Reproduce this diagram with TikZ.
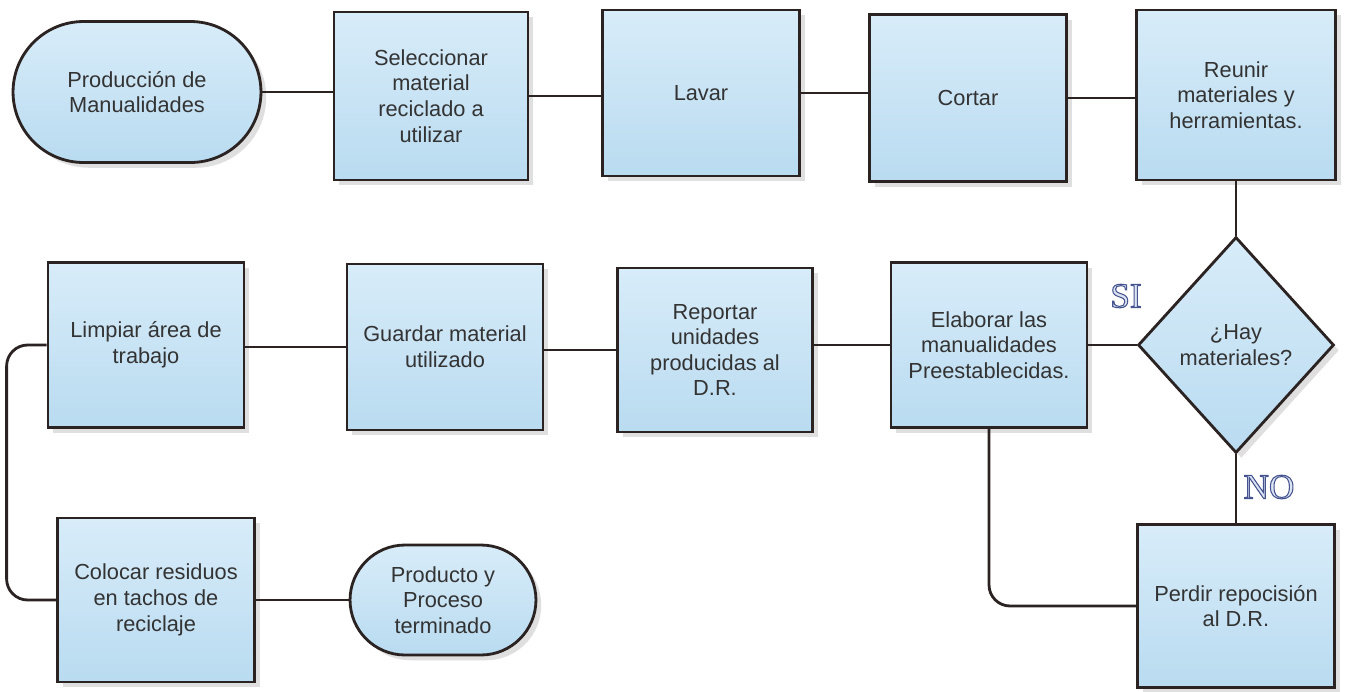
\documentclass[tikz,border=0pt]{standalone}
\usepackage{fontspec}
\setmainfont{Liberation Sans}
\newfontfamily\labelfont{Liberation Serif}
\usetikzlibrary{shapes.geometric,shapes.misc,shadows}
\definecolor{boxtop}{HTML}{D8ECF9}
\definecolor{boxbot}{HTML}{B9DBF0}
\definecolor{edgec}{HTML}{2B2222}
\definecolor{txtc}{HTML}{333333}
\definecolor{lblc}{HTML}{DCE4F4}
\newcommand{\outlined}[1]{\special{pdf:literal direct 2 Tr 0.6 w 0.27 0.33 0.56 RG}#1\special{pdf:literal direct 0 Tr}}
\tikzset{
  base/.style={draw=edgec, line width=1.6pt, top color=boxtop, bottom color=boxbot,
    text=txtc, align=center, font=\fontsize{12.4}{14.6}\selectfont, inner sep=2pt,
    drop shadow={shadow xshift=3pt, shadow yshift=-3pt, opacity=0.25, fill=gray}},
  procbox/.style={base, rectangle, minimum width=3.94cm, minimum height=3.32cm},
  termbox/.style={base, rounded rectangle},
  decbox/.style={base, diamond, minimum width=3.92cm, minimum height=4.32cm, inner sep=0pt},
  conn/.style={draw=edgec, line width=1.6pt},
  yesno/.style={text=lblc, font=\labelfont\fontsize{20}{20}\selectfont}
}
\begin{document}
\begin{tikzpicture}[x=0.02cm, y=-0.02cm]
\useasboundingbox[fill=white] (0,0) rectangle (1350,691);
% top row
\node[termbox, minimum width=5.1cm, minimum height=2.82cm] (start) at (137,92) {Producción de\\Manualidades};
\node[procbox, minimum width=3.88cm, minimum height=3.36cm] (sel) at (431,96) {Seleccionar\\material\\reciclado a\\utilizar};
\node[procbox] (lav) at (701,93) {Lavar};
\node[procbox, minimum height=3.34cm] (cor) at (968,98) {Cortar};
\node[procbox, minimum width=3.98cm, minimum height=3.4cm] (reu) at (1236,95) {Reunir\\materiales y\\herramientas.};
% decision
\node[decbox] (dec) at (1236,345) {¿Hay\\materiales?};
% middle row
\node[procbox, minimum width=3.92cm, minimum height=3.3cm] (ela) at (989,345) {Elaborar las\\manualidades\\Preestablecidas.};
\node[procbox, minimum width=3.9cm, minimum height=3.28cm] (rep) at (715,350) {Reportar\\unidades\\producidas al\\D.R.};
\node[procbox, minimum width=3.92cm] (gua) at (445,347) {Guardar material\\utilizado};
\node[procbox, minimum width=3.92cm, minimum height=3.3cm] (lim) at (146,345) {Limpiar área de\\trabajo};
% bottom row
\node[procbox, minimum height=3.28cm] (col) at (156,600) {Colocar residuos\\en tachos de\\reciclaje};
\node[termbox, minimum width=3.86cm, minimum height=2.2cm] (prod) at (443,600) {Producto y\\Proceso\\terminado};
\node[procbox, minimum height=3.26cm] (per) at (1236,606) {Perdir repocisión\\al D.R.};
% labels
\node[yesno] (si) at (1126,296) {\outlined{SI}};
\node[yesno] (no) at (1269,487) {\outlined{NO}};
% connectors
\draw[conn] (start.east) -- (start.east -| sel.west);
\draw[conn] (sel.east) -- (sel.east -| lav.west);
\draw[conn] (lav.east) -- (lav.east -| cor.west);
\draw[conn] (cor.east) -- (cor.east -| reu.west);
\draw[conn] (reu.south) -- (dec.north);
\draw[conn] (dec.west) -- (ela.east);
\draw[conn] (ela.west) -- (ela.west -| rep.east);
\draw[conn] (rep.west) -- (rep.west -| gua.east);
\draw[conn] (gua.west) -- (gua.west -| lim.east);
\draw[conn, rounded corners=12] (lim.west) -- ++(-40,0) |- (col.west);
\draw[conn] (col.east) -- (col.east -| prod.west);
\draw[conn] (dec.south) -- (per.north);
\draw[conn, rounded corners=12] (ela.south) |- (per.west);
\end{tikzpicture}
\end{document}
